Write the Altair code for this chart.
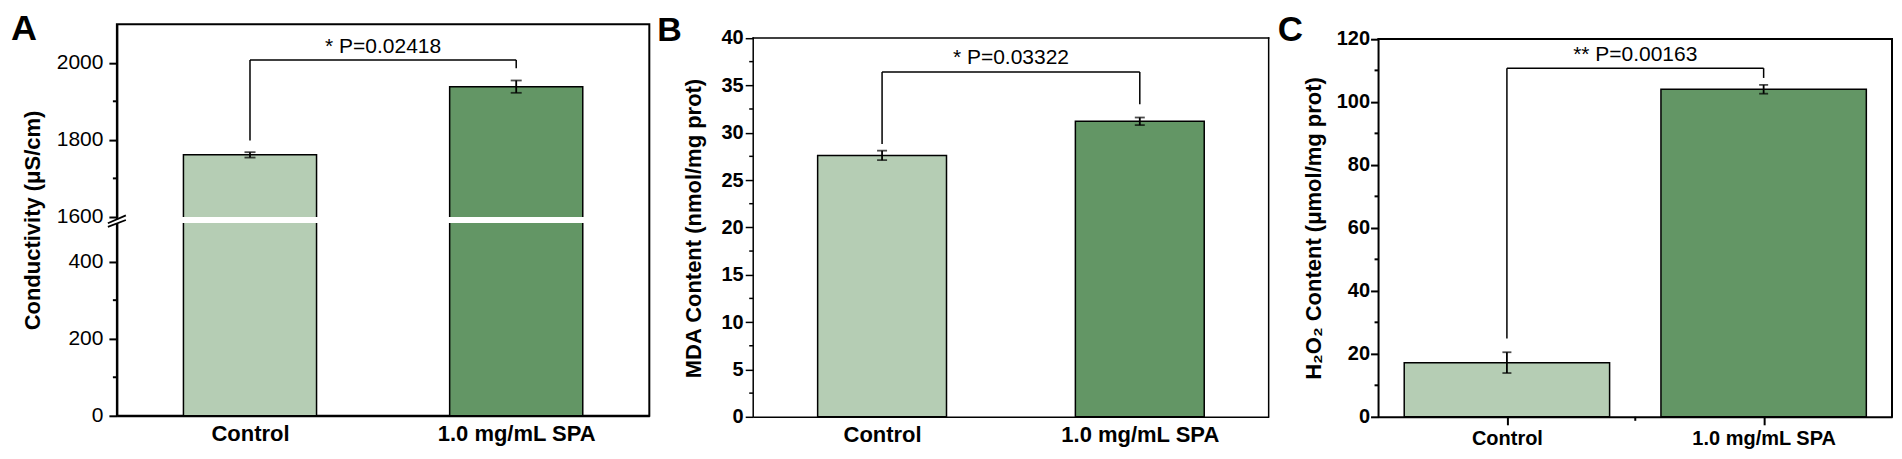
import altair as alt
import pandas as pd

FONT = "Liberation Sans, Arial, Helvetica, sans-serif"

# ---------------- data ----------------
categories = ["Control", "1.0 mg/mL SPA"]
bar_colors = ["#b5cdb4", "#639665"]

cond_mean = [1761, 1938]
cond_err = [7, 16]
mda_mean = [27.6, 31.2]
mda_err = [0.5, 0.4]
h2o2_mean = [17.2, 104.0]
h2o2_err = [3.3, 1.4]

# significance brackets: [top, left end, right end]
cond_bracket = [2007, 1798, 1986]
mda_bracket = [36.4, 28.8, 33.0]
h2o2_bracket = [110.7, 24.9, 107.6]
p_labels = ["* P=0.02418", "* P=0.03322", "** P=0.00163"]
p_label_y = [2040, 37.9, 115.0]

cond_ticks = [0, 200, 400, 1600, 1800, 2000]
cond_minor = [100, 300, 1700, 1900]
mda_ticks = [0, 5, 10, 15, 20, 25, 30, 35, 40]
mda_minor = [2.5, 7.5, 12.5, 17.5, 22.5, 27.5, 32.5, 37.5]
h2o2_ticks = [0, 20, 40, 60, 80, 100, 120]
h2o2_minor = [10, 30, 50, 70, 90, 110]

# axis break of panel A (values 500..1600 are skipped)
break_low, break_high, break_gap = 500, 1600, 16
cond_top = 2100


def cond_map(v):
    return v if v <= break_low else v - break_high + break_low + break_gap


def cond_expr(f):
    return (f"datum.{f} <= {break_low} ? datum.{f} : "
            f"datum.{f} - {break_high} + {break_low + break_gap}")


def plain_expr(f):
    return f"datum.{f}"


X_LABELS = (f"datum.value == 1 ? '{categories[0]}' : "
            f"datum.value == 2 ? '{categories[1]}' : ''")


def make_panel(letter, means, errs, bracket, p_label, p_y, y_title, mexpr,
               ydom_top, major, minor, label_expr,
               width, height, half, cap, frame_w,
               ylab_size, ylab_weight, ylab_pad, ytitle_pad,
               xlab_size, xlab_pad, x_ticks,
               title_size, title_dx, title_offset,
               frame_top=None, title_y=None, extra=None):
    xscale = alt.Scale(domain=[0.5, 2.5], nice=False, zero=False)
    yscale = alt.Scale(domain=[0, ydom_top], nice=False, zero=False)

    xaxis_kw = dict(
        values=[1, 2], labelExpr=X_LABELS,
        domainColor="black", domainWidth=frame_w, grid=False,
        labelFont=FONT, labelFontSize=xlab_size, labelFontWeight="bold",
        labelColor="black", labelPadding=xlab_pad, labelOverlap=False,
        labelFlush=False, title=None, ticks=x_ticks,
    )
    if x_ticks:
        xaxis_kw.update(tickColor="black", tickWidth=frame_w, tickSize=8)
    else:
        xaxis_kw.update(tickSize=0)
    xaxis = alt.Axis(**xaxis_kw)

    yaxis_kw = dict(
        values=major, labelExpr=label_expr,
        tickSize=8, tickColor="black", tickWidth=frame_w,
        domainColor="black", domainWidth=frame_w, grid=False,
        labelFont=FONT, labelFontSize=ylab_size, labelFontWeight=ylab_weight,
        labelColor="black", labelPadding=ylab_pad, labelOverlap=False,
        title=y_title, titleFont=FONT, titleFontSize=22, titleFontWeight="bold",
        titleColor="black", titlePadding=ytitle_pad,
    )
    if frame_top is not None:
        yaxis_kw.update(domain=False)
    if title_y is not None:
        yaxis_kw.update(titleY=title_y)
    yaxis = alt.Axis(**yaxis_kw)

    df = pd.DataFrame({
        "cat": categories,
        "pos": [i + 1 for i in range(len(categories))],
        "v": means,
        "err": errs,
    })
    base = alt.Chart(df).transform_calculate(
        x1=f"datum.pos - {half}", x2=f"datum.pos + {half}",
        lo="datum.v - datum.err", hi="datum.v + datum.err",
    ).transform_calculate(
        yv=mexpr("v"), ylo=mexpr("lo"), yhi=mexpr("hi"),
    )

    bars = base.mark_bar(stroke="black", strokeWidth=1.5).encode(
        x=alt.X("x1:Q", scale=xscale, axis=xaxis),
        x2="x2:Q",
        y=alt.Y("yv:Q", scale=yscale, axis=yaxis),
        y2=alt.datum(0),
        color=alt.Color("cat:N", scale=alt.Scale(domain=categories, range=bar_colors),
                        legend=None),
    )
    err_rule = base.mark_rule(color="black", strokeWidth=1.8).encode(
        x=alt.X("pos:Q", scale=xscale),
        y=alt.Y("ylo:Q", scale=yscale),
        y2="yhi:Q",
    )
    cap_lo = base.mark_tick(color="black", orient="horizontal", size=cap, thickness=1.8).encode(
        x=alt.X("pos:Q", scale=xscale),
        y=alt.Y("ylo:Q", scale=yscale),
    )
    cap_hi = base.mark_tick(color="black", orient="horizontal", size=cap, thickness=1.8).encode(
        x=alt.X("pos:Q", scale=xscale),
        y=alt.Y("yhi:Q", scale=yscale),
    )

    # minor ticks on the y axis
    mdf = pd.DataFrame({"m": minor})
    minor_y = alt.Chart(mdf).mark_rule(color="black", strokeWidth=frame_w).encode(
        x=alt.value(-4), x2=alt.value(0),
        y=alt.Y("m:Q", scale=yscale),
    )

    top, left_end, right_end = bracket
    bdf = pd.DataFrame({
        "x": [1, 1, 2], "x2": [1, 2, 2],
        "ya": [left_end, top, right_end], "yb": [top, top, top],
    })
    bracket_layer = alt.Chart(bdf).transform_calculate(
        ym=mexpr("ya"), y2m=mexpr("yb"),
    ).mark_rule(color="black", strokeWidth=1.5).encode(
        x=alt.X("x:Q", scale=xscale),
        x2="x2:Q",
        y=alt.Y("ym:Q", scale=yscale),
        y2="y2m:Q",
    )
    tdf = pd.DataFrame({"x": [1.5], "ya": [p_y], "t": [p_label]})
    text_layer = alt.Chart(tdf).transform_calculate(ym=mexpr("ya")).mark_text(
        font=FONT, fontSize=21, align="center", baseline="middle", color="black",
    ).encode(
        x=alt.X("x:Q", scale=xscale),
        y=alt.Y("ym:Q", scale=yscale),
        text="t:N",
    )

    layers = [bars] + (extra(xscale, yscale, width) if extra else []) + \
             [minor_y, err_rule, cap_lo, cap_hi, bracket_layer, text_layer]

    if frame_top is not None:
        fdf = pd.DataFrame({
            "fx": [0.5, 0.5, 2.5], "fx2": [0.5, 2.5, 2.5],
            "fy": [0, frame_top, 0], "fy2": [frame_top, frame_top, frame_top],
        })
        layers.append(alt.Chart(fdf).mark_rule(
            color="black", strokeWidth=frame_w, strokeCap="square").encode(
            x=alt.X("fx:Q", scale=xscale), x2="fx2:Q",
            y=alt.Y("fy:Q", scale=yscale), y2="fy2:Q",
        ))

    if x_ticks:
        xm = pd.DataFrame({"xm": [1.5]})
        layers.append(alt.Chart(xm).mark_rule(color="black", strokeWidth=frame_w).encode(
            x=alt.X("xm:Q", scale=xscale),
            y=alt.value(height), y2=alt.value(height + 4),
        ))

    view = (alt.ViewBackground(stroke="black", strokeWidth=frame_w) if frame_top is None
            else alt.ViewBackground(stroke="transparent"))

    return alt.layer(*layers).properties(
        width=width, height=height, view=view,
        title=alt.TitleParams(
            text=letter, anchor="start", frame="group", orient="top",
            dx=title_dx, offset=title_offset, font=FONT, fontSize=title_size,
            fontWeight="bold", color="black",
        ),
    )


def cond_break_layers(xscale, yscale, width):
    band_df = pd.DataFrame({"b0": [break_low], "b1": [break_high]})
    band = alt.Chart(band_df).transform_calculate(
        y0=cond_expr("b0"), y1=cond_expr("b1"),
    ).mark_rect(color="white").encode(
        x=alt.value(3), x2=alt.value(width - 3),
        y=alt.Y("y0:Q", scale=yscale), y2="y1:Q",
    )
    cover_df = pd.DataFrame({"c0": [break_low - 1], "c1": [break_low + 10]})
    cover = alt.Chart(cover_df).mark_rect(color="white").encode(
        x=alt.value(-5), x2=alt.value(5),
        y=alt.Y("c0:Q", scale=yscale), y2="c1:Q",
    )
    diag_df = pd.DataFrame({"d0": [break_low - 10, break_low - 0.5],
                            "d1": [break_low + 8, break_low + 20]})
    diag = alt.Chart(diag_df).mark_rule(color="black", strokeWidth=1.8).encode(
        x=alt.value(-9), x2=alt.value(9),
        y=alt.Y("d0:Q", scale=yscale), y2="d1:Q",
    )
    return [band, cover, diag]


cond_minor_mapped = [cond_map(v) for v in cond_minor]
cond_major_mapped = [cond_map(v) for v in cond_ticks]

panel_a = make_panel(
    "A", cond_mean, cond_err, cond_bracket, p_labels[0], p_label_y[0],
    "Conductivity (μS/cm)", cond_expr, cond_map(cond_top),
    cond_major_mapped, cond_minor_mapped,
    f"datum.value > {break_low} ? datum.value + {break_high - break_low - break_gap} : datum.value",
    width=533, height=392, half=0.25, cap=11, frame_w=2,
    ylab_size=21, ylab_weight="normal", ylab_pad=6, ytitle_pad=12,
    xlab_size=22, xlab_pad=8, x_ticks=False,
    title_size=36, title_dx=-106, title_offset=-24,
    extra=cond_break_layers,
)

panel_b = make_panel(
    "B", mda_mean, mda_err, mda_bracket, p_labels[1], p_label_y[1],
    "MDA Content (nmol/mg prot)", plain_expr, 41.45,
    mda_ticks, mda_minor,
    "datum.value",
    width=516, height=393, half=0.25, cap=10, frame_w=1.5,
    ylab_size=20, ylab_weight="bold", ylab_pad=2, ytitle_pad=16,
    xlab_size=22, xlab_pad=8, x_ticks=False,
    title_size=34, title_dx=-96, title_offset=-24,
    frame_top=max(mda_ticks), title_y=204,
)

panel_c = make_panel(
    "C", h2o2_mean, h2o2_err, h2o2_bracket, p_labels[2], p_label_y[2],
    "H₂O₂ Content (μmol/mg prot)", plain_expr, 124.66,
    h2o2_ticks, h2o2_minor,
    "datum.value",
    width=514, height=393, half=0.4, cap=9, frame_w=2,
    ylab_size=20, ylab_weight="bold", ylab_pad=1, ytitle_pad=11,
    xlab_size=20, xlab_pad=4, x_ticks=True,
    title_size=35, title_dx=-101, title_offset=-24,
    frame_top=max(h2o2_ticks), title_y=204,
)

chart = alt.hconcat(panel_a, panel_b, panel_c, spacing=6).properties(
    padding={"left": 2, "top": 2, "right": 0, "bottom": 0}, background="white",
)

chart.save("out.html", embed_options={"renderer": "svg", "actions": False})
